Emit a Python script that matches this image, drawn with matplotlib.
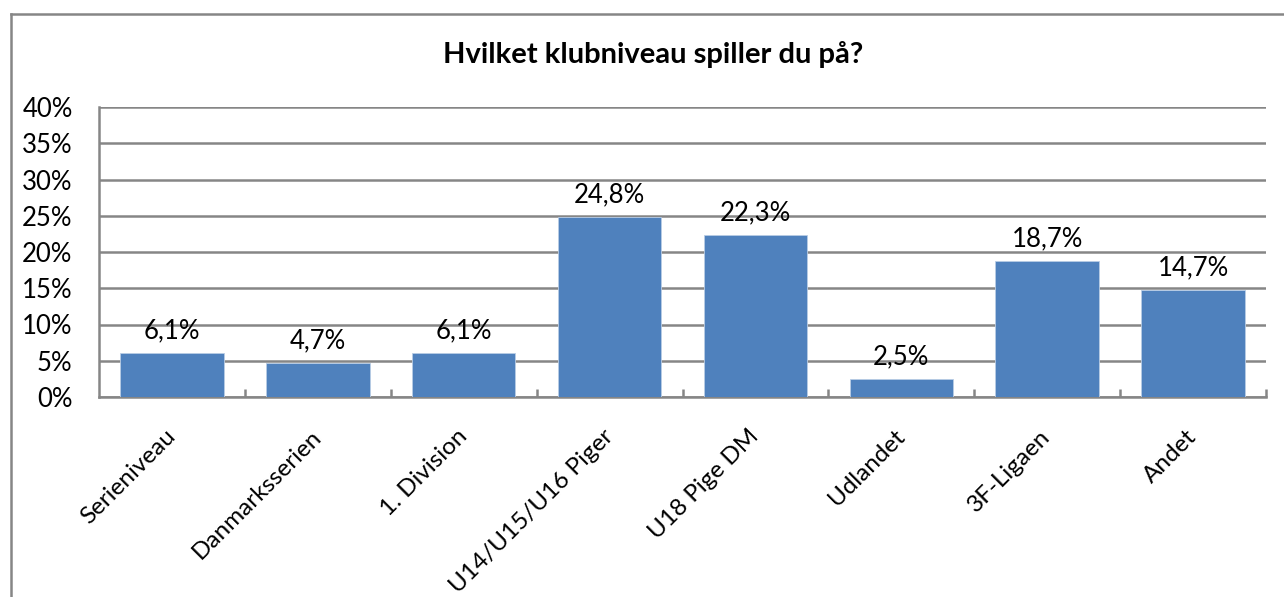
import matplotlib
matplotlib.use("Agg")
import matplotlib.pyplot as plt
from matplotlib.ticker import MultipleLocator, FuncFormatter

categories = ["Serieniveau", "Danmarksserien", "1. Division", "U14/U15/U16 Piger",
              "U18 Pige DM", "Udlandet", "3F-Ligaen", "Andet"]
values = [6.1, 4.7, 6.1, 24.8, 22.3, 2.5, 18.7, 14.7]
title = "Hvilket klubniveau spiller du på?"

plt.rcParams['font.family'] = ['Lato', 'DejaVu Sans']

W, H = 1284, 597
fig = plt.figure(figsize=(W / 100, H / 100), dpi=100)
fig.patch.set_facecolor("white")

# outer chart frame
fig.add_artist(plt.Line2D([11 / W, 11 / W], [0, 1 - 14 / H], transform=fig.transFigure,
                          color="#868686", lw=1.8))
fig.add_artist(plt.Line2D([11 / W, 1], [1 - 14 / H, 1 - 14 / H], transform=fig.transFigure,
                          color="#868686", lw=1.8))

ax = fig.add_axes([99 / W, 1 - 397 / H, (1266 - 99) / W, (397 - 107) / H])
x = list(range(len(categories)))
ax.bar(x, values, width=0.71, color="#4F81BD", edgecolor="#B9CDE5", linewidth=0.6, zorder=3)
ax.set_xlim(-0.5, len(categories) - 0.5)
ax.set_ylim(0, 40)
ax.yaxis.set_major_locator(MultipleLocator(5))
ax.yaxis.set_major_formatter(FuncFormatter(lambda v, p: f"{int(v)}%"))
ax.grid(axis="y", color="#868686", lw=1.8, zorder=0)
ax.set_axisbelow(True)
for s in ["top", "right"]:
    ax.spines[s].set_visible(False)
for s in ["left", "bottom"]:
    ax.spines[s].set_color("#868686")
    ax.spines[s].set_linewidth(1.8)
ax.tick_params(axis="y", length=0, labelsize=18.5, pad=19)
ax.set_xticks(x)
ax.set_xticklabels(categories, rotation=45, ha="right", va="center",
                   rotation_mode="anchor", fontsize=17.5)
ax.tick_params(axis="x", length=0, pad=26)
# minor ticks at category boundaries, pointing inward
ax.set_xticks([i + 0.5 for i in range(len(categories))], minor=True)
ax.tick_params(axis="x", which="minor", direction="in", length=6, width=1.8, color="#868686")

for xi, v in zip(x, values):
    ax.annotate(f"{v:.1f}".replace(".", ",") + "%", (xi, v), xytext=(0, 7),
                textcoords="offset points", ha="center", va="bottom", fontsize=18.5)

fig.text(653 / W, 1 - 55 / H, title, ha="center", va="center", fontsize=21, fontweight="bold")

fig.savefig("out.png", dpi=100)
